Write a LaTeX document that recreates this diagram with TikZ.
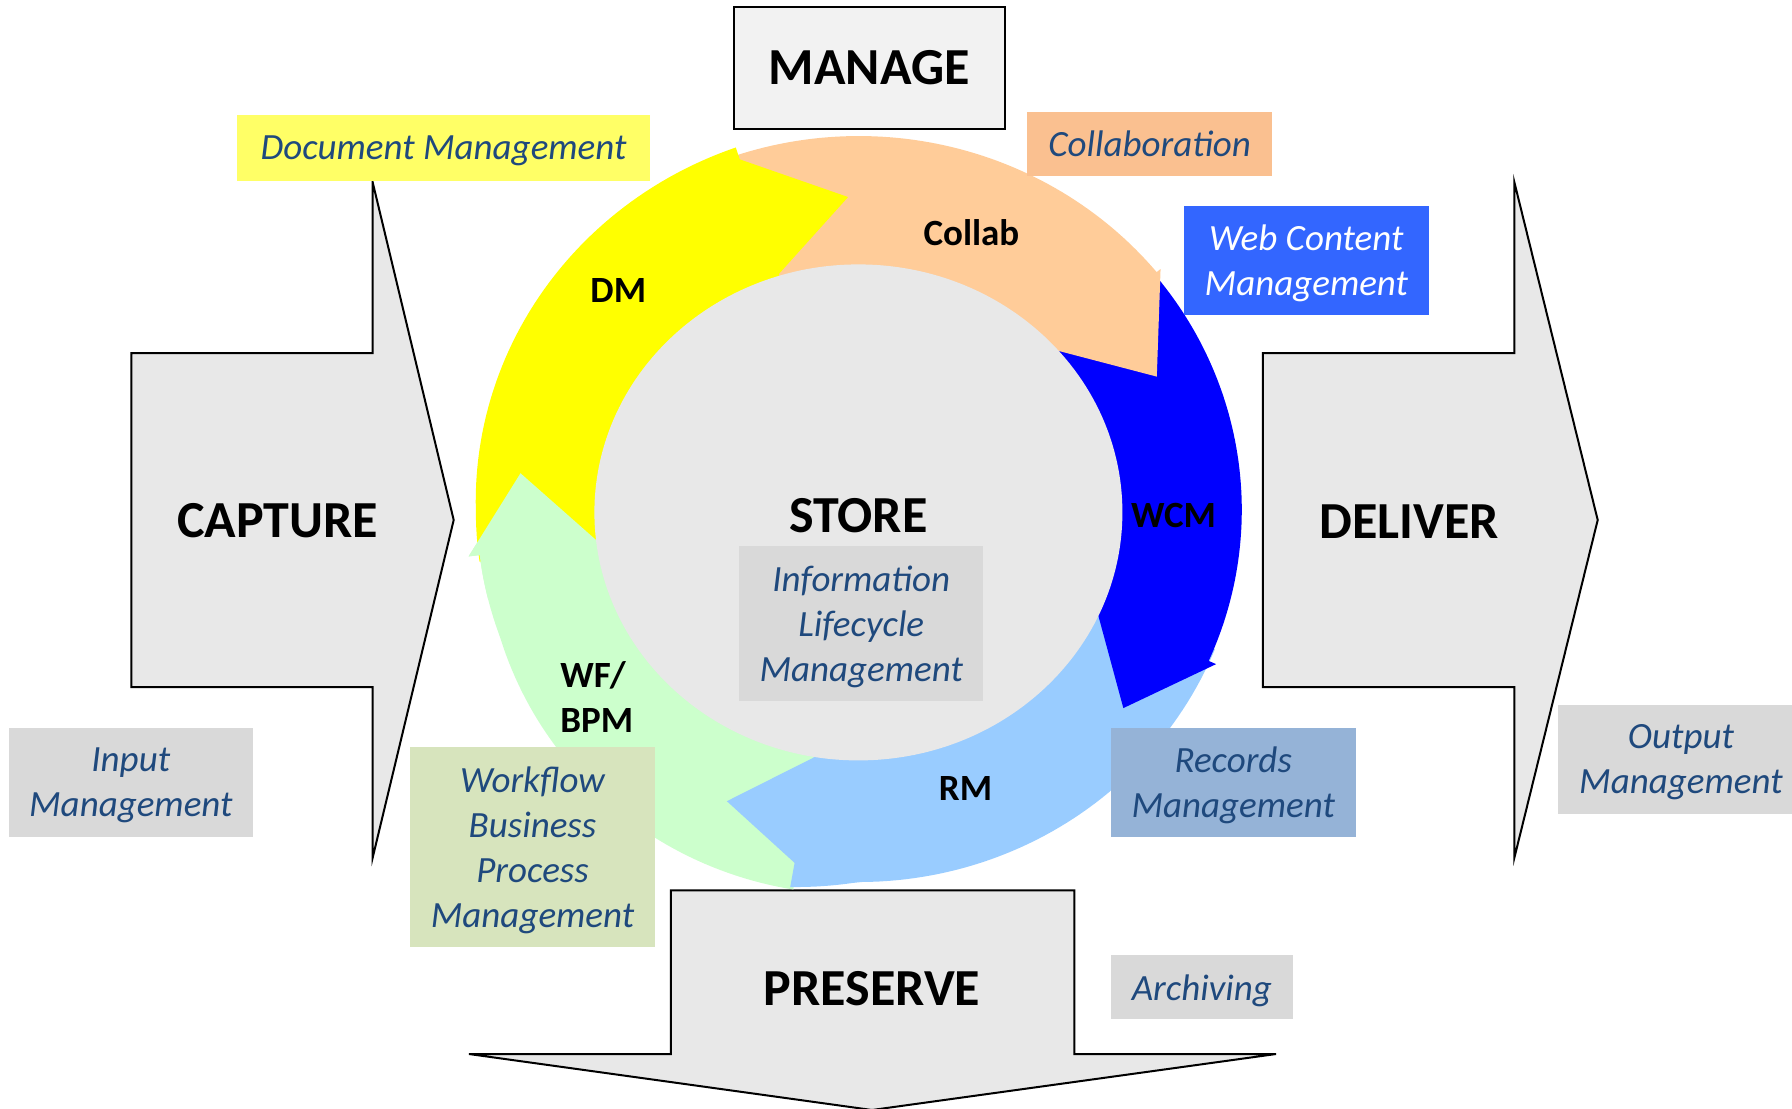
\documentclass[tikz,border=0pt]{standalone}
\usepackage{fontspec}
\setmainfont{Carlito}
\definecolor{arrowgray}{HTML}{E8E8E8}
\definecolor{managegray}{HTML}{F2F2F2}
\definecolor{storegray}{HTML}{E8E8E8}
\definecolor{taggray}{HTML}{D9D9D9}
\definecolor{tagblue}{HTML}{1F497D}
\definecolor{dmyellow}{HTML}{FFFF66}
\definecolor{collabtag}{HTML}{FAC090}
\definecolor{wcmtag}{HTML}{3366FF}
\definecolor{rmtag}{HTML}{95B3D7}
\definecolor{wftag}{HTML}{D7E4BD}
\definecolor{ringyellow}{HTML}{FFFF00}
\definecolor{ringorange}{HTML}{FFCC99}
\definecolor{ringblue}{HTML}{0000FF}
\definecolor{ringlight}{HTML}{99CCFF}
\definecolor{ringgreen}{HTML}{CCFFCC}
% colour, tail angle, head base angle, outer radius expr, head outer barb r, head inner barb r, tip angle, tip r
\newcommand{\ringarrow}[8]{%
  \fill[#1] plot[domain=#2:#3,samples=61] (\x:{#4}) -- (#3:#5) -- (#7:#8) -- (#3:#6) -- (#3:240)
    -- plot[domain=#3:#2,samples=61] (\x:{240}) -- cycle;}
\newcommand{\nodepth}[1]{\raisebox{0pt}[\height][0pt]{#1}}
\begin{document}
\begin{tikzpicture}[x=0.5pt, y=-0.5pt,
  bigarrow/.style={draw=black, line width=1pt, fill=arrowgray, line join=miter},
  biglabel/.style={font=\fontsize{26}{31}\selectfont\bfseries, inner sep=0pt},
  ringlabel/.style={font=\fontsize{18.5}{22.5}\selectfont\bfseries, inner sep=0pt, align=left},
  tag/.style={font=\fontsize{18.5}{22.5}\selectfont\itshape, text=tagblue, align=center, inner sep=0pt}]

\useasboundingbox (0,0) rectangle (1792,1108);

% big process arrows
\draw[bigarrow] (131.4,353) -- (372.6,353) -- (372.6,182) -- (453.7,520) -- (372.6,858) -- (372.6,687) -- (131.4,687) -- cycle;
\node[biglabel] (capture) at (277.7,521) {CAPTURE};

\draw[bigarrow] (1262.9,353) -- (1514.3,353) -- (1514.3,182) -- (1597.7,520) -- (1514.3,858) -- (1514.3,687) -- (1262.9,687) -- cycle;
\node[biglabel] (deliver) at (1409.1,522) {DELIVER};

\draw[bigarrow] (670.9,890.3) -- (1074.3,890.3) -- (1074.3,1054) -- (1276,1054) -- (872,1110) -- (469,1054) -- (670.9,1054) -- cycle;
\node[biglabel] (preserve) at (872,988.6) {PRESERVE};

\node[draw=black, line width=1pt, fill=managegray, minimum width=135.5pt, minimum height=61pt, biglabel] (manage) at (869.2,68) {MANAGE};

% ring of circular arrows
\begin{scope}[shift={(858.8,510)}, x=0.5066pt, y=0.4908pt]
\ringarrow{ringgreen}{260.5}{187}{377+15*sin(1.5*max(0,\x-200))}{388}{260}{173.6}{336}
\ringarrow{ringlight}{-22}{-100}{379+1.1*max(0,-90-\x)}{365}{256}{-113.7}{324}
\ringarrow{ringblue}{41}{-24}{378}{386}{258}{-37.7}{330}
\ringarrow{ringorange}{110}{39.5}{381}{386}{255}{24.8}{324}
\ringarrow{ringyellow}{188}{108.2}{378+0.15*max(0,180-\x)}{376}{253}{91.9}{319}
\fill[ringgreen] plot[domain=194:187,samples=8] (\x:{377}) -- (187:388) -- (173.6:336) -- (187:260) -- (187:240)
  -- plot[domain=187:194,samples=8] (\x:{240}) -- cycle;
\end{scope}

% store centre
\fill[storegray] (858.4,512.4) ellipse [x radius=132pt, y radius=124pt];
\node[biglabel] (store) at (858.3,515.4) {STORE};

% ring labels
\node[ringlabel] (dm) at (618.3,290.6) {DM};
\node[ringlabel] (collab) at (971.4,233) {Collab};
\node[ringlabel] (wcm) at (1173.5,515) {WCM};
\node[ringlabel] (rm) at (965.5,788) {RM};
\node[ringlabel, anchor=west] (wfbpm) at (560,697) {WF/\\BPM};

% tag boxes
\node[tag, fill=dmyellow, minimum width=206.9pt, minimum height=32.6pt] (dmtag) at (443.5,148) {\nodepth{Document Management}};
\node[tag, fill=collabtag, minimum width=122.3pt, minimum height=32pt] (collabtag) at (1149.7,144) {Collaboration};
\node[tag, fill=wcmtag, text=white, minimum width=122.3pt, minimum height=54.9pt] (wcmtag) at (1306.3,260.5) {Web Content\\\nodepth{Management}};
\node[tag, fill=taggray, minimum width=121.8pt, minimum height=54.3pt] (inputtag) at (130.8,782.3) {Input\\\nodepth{Management}};
\node[tag, fill=wftag, minimum width=122.5pt, minimum height=100pt] (wftag) at (532.5,847.4) {Workflow\\Business\\Process\\\nodepth{Management}};
\node[tag, fill=taggray, minimum width=121.8pt, minimum height=77.3pt] (ilmtag) at (861.2,623.3) {Information\\Lifecycle\\\nodepth{Management}};
\node[tag, fill=rmtag, minimum width=122.3pt, minimum height=54.3pt] (rmtag) at (1233.2,782.3) {Records\\\nodepth{Management}};
\node[tag, fill=taggray, minimum width=123pt, minimum height=54.4pt] (outputtag) at (1680.9,759.4) {Output\\\nodepth{Management}};
\node[tag, fill=taggray, minimum width=90.9pt, minimum height=32pt] (archtag) at (1201.8,987.4) {\nodepth{Archiving}};
\end{tikzpicture}
\end{document}
